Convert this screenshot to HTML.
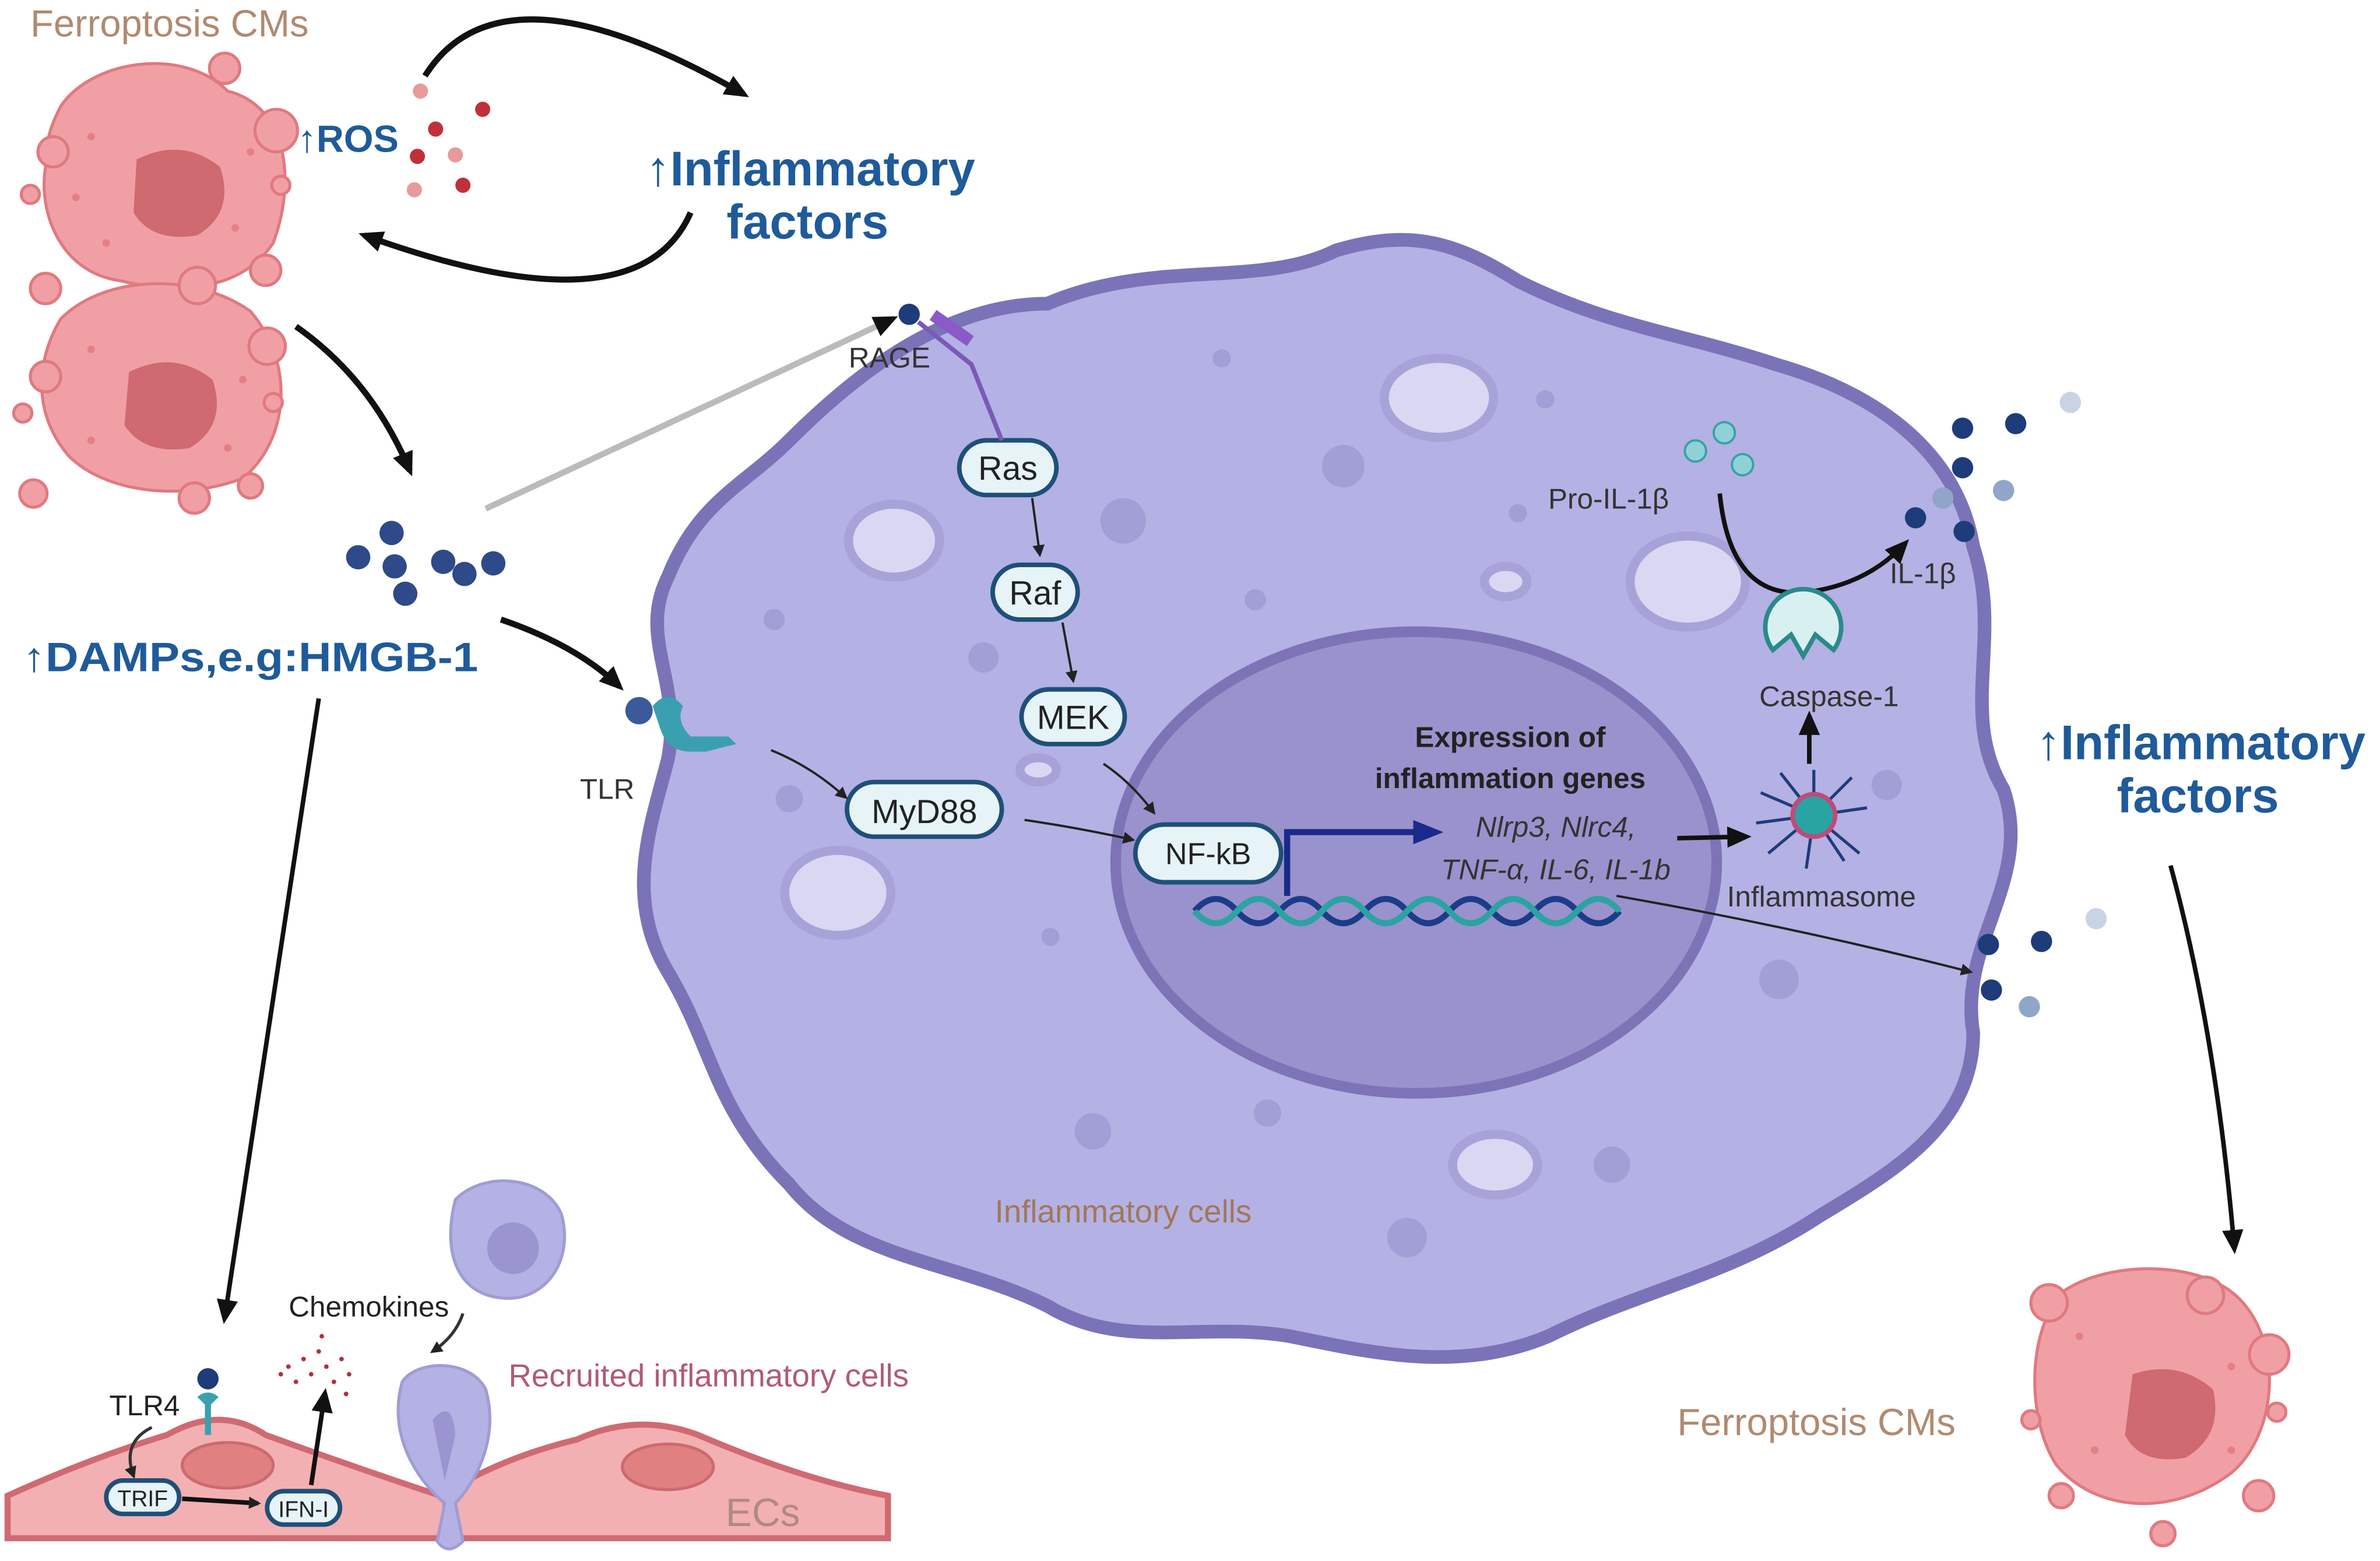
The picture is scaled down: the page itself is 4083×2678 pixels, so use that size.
<!DOCTYPE html>
<html><head><meta charset="utf-8"><style>
html,body{margin:0;padding:0;background:#fff}
svg{display:block}
text{font-family:"Liberation Sans",sans-serif}
</style></head><body>
<svg width="4083" height="2678" viewBox="0 0 1568 1028" preserveAspectRatio="none" xmlns="http://www.w3.org/2000/svg">
<defs>
<marker id="ah" markerWidth="8" markerHeight="8" refX="6" refY="4" orient="auto" markerUnits="userSpaceOnUse"><path d="M0,0 L8,4 L0,8 Z" fill="#222"/></marker>
<marker id="ahb" markerWidth="16" markerHeight="14" refX="12" refY="7" orient="auto" markerUnits="userSpaceOnUse"><path d="M0,0 L16,7 L0,14 Z" fill="#111"/></marker>
<marker id="ahn" markerWidth="20" markerHeight="16" refX="14" refY="8" orient="auto" markerUnits="userSpaceOnUse"><path d="M0,0 L20,8 L0,16 Z" fill="#1a2a8a"/></marker>
</defs>

<!-- big inflammatory cell -->
<path d="M520,290 C560,250 620,200 690,200 C760,170 830,190 880,165 C930,150 960,160 1000,185 C1060,215 1110,220 1170,240 C1240,260 1290,300 1300,360 C1320,420 1290,470 1320,520 C1340,580 1290,620 1300,680 C1300,740 1250,770 1200,800 C1140,840 1080,850 1020,880 C960,905 900,890 850,880 C790,870 740,890 690,860 C630,830 560,830 520,780 C470,730 470,690 440,640 C410,590 430,540 440,500 C450,450 420,420 440,380 C460,330 490,320 520,290 Z" fill="#b4b1e4" stroke="#7b73b8" stroke-width="9"/>
<g fill="#a29ed6">
<circle cx="885" cy="307" r="14"/><circle cx="740" cy="343" r="15"/><circle cx="648" cy="433" r="10"/><circle cx="827" cy="395" r="7"/><circle cx="805" cy="236" r="6"/><circle cx="1018" cy="263" r="6"/><circle cx="510" cy="408" r="7"/><circle cx="520" cy="526" r="9"/><circle cx="720" cy="745" r="12"/><circle cx="835" cy="733" r="9"/><circle cx="927" cy="815" r="13"/><circle cx="1062" cy="767" r="12"/><circle cx="1172" cy="645" r="13"/><circle cx="1243" cy="517" r="10"/><circle cx="1000" cy="338" r="6"/><circle cx="692" cy="617" r="6"/></g>
<g fill="#d9d8f3" stroke="#a7a3d8" stroke-width="6">
<ellipse cx="948" cy="262" rx="36" ry="26"/><ellipse cx="589" cy="356" rx="30" ry="24"/><ellipse cx="1112" cy="383" rx="38" ry="30"/><ellipse cx="552" cy="588" rx="35" ry="28"/><ellipse cx="985" cy="767" rx="28" ry="20"/><ellipse cx="992" cy="383" rx="14" ry="10"/><ellipse cx="684" cy="507" rx="12" ry="8"/></g>
<ellipse cx="933" cy="568" rx="198" ry="152" fill="#9a92cc" stroke="#7d74b7" stroke-width="7"/>

<path d="M787,600 q14,-16 28,0 t28,0 t28,0 t28,0 t28,0 t28,0 t28,0 t28,0 t28,0 t28,0" fill="none" stroke="#1c3c8a" stroke-width="4"/>
<path d="M787,600 q14,16 28,0 t28,0 t28,0 t28,0 t28,0 t28,0 t28,0 t28,0 t28,0 t28,0" fill="none" stroke="#2aa3a3" stroke-width="4"/>
<path d="M848,590 L848,548 L945,548" fill="none" stroke="#1a2a8a" stroke-width="4" marker-end="url(#ahn)"/>

<g font-size="22" text-anchor="middle" fill="#222">
<rect x="632" y="290" width="64" height="36" rx="18" fill="#e6f3f7" stroke="#1f4f78" stroke-width="3"/><text x="664" y="316">Ras</text>
<rect x="654" y="372" width="56" height="36" rx="18" fill="#e6f3f7" stroke="#1f4f78" stroke-width="3"/><text x="682" y="398">Raf</text>
<rect x="673" y="454" width="68" height="36" rx="18" fill="#e6f3f7" stroke="#1f4f78" stroke-width="3"/><text x="707" y="480">MEK</text>
<rect x="558" y="515" width="102" height="36" rx="18" fill="#e6f3f7" stroke="#1f4f78" stroke-width="3"/><text x="609" y="542">MyD88</text>
<rect x="748" y="543" width="96" height="38" rx="19" fill="#e6f3f7" stroke="#1f4f78" stroke-width="3"/><text x="796" y="569" font-size="20">NF-kB</text>
</g>
<g stroke="#222" stroke-width="1.5" fill="none" marker-end="url(#ah)">
<path d="M680,328 L685,365"/><path d="M700,410 L707,448"/><path d="M727,503 Q745,515 760,535"/><path d="M508,494 Q535,505 557,525"/><path d="M675,540 Q710,545 746,553"/>
<path d="M1065,590 Q1180,610 1298,640"/>
</g>
<path d="M1105,552 L1150,551" stroke="#111" stroke-width="3" marker-end="url(#ahb)"/>
<path d="M1192,503 L1192,472" stroke="#111" stroke-width="3" marker-end="url(#ahb)"/>
<path d="M1133,325 Q1140,395 1190,390 Q1230,385 1255,358" fill="none" stroke="#111" stroke-width="3" marker-end="url(#ahb)"/>

<text x="995" y="492" font-size="19" font-weight="bold" text-anchor="middle" fill="#222">Expression of</text>
<text x="995" y="519" font-size="19" font-weight="bold" text-anchor="middle" fill="#222">inflammation genes</text>
<text x="1025" y="551" font-size="19" font-style="italic" text-anchor="middle" fill="#333">Nlrp3, Nlrc4,</text>
<text x="1025" y="579" font-size="19" font-style="italic" text-anchor="middle" fill="#333">TNF-α, IL-6, IL-1b</text>

<g stroke="#1f3c78" stroke-width="2"><path d="M1195,537 l-35,-15 M1195,537 l-38,5 M1195,537 l-30,25 M1195,537 l0,-30 M1195,537 l25,-25 M1195,537 l35,-5 M1195,537 l30,25 M1195,537 l-5,35 M1195,537 l20,30 M1195,537 l-22,-28"/></g>
<circle cx="1195" cy="537" r="14" fill="#2aa3a3" stroke="#c04a7a" stroke-width="3"/>
<text x="1200" y="597" font-size="19" text-anchor="middle" fill="#333">Inflammasome</text>
<path d="M1168,428 A25,25 0 1 1 1208,428 L1196,418 L1188,432 L1180,418 Z" fill="#d8f0f0" stroke="#2a8a8a" stroke-width="3"/>
<text x="1205" y="465" font-size="19" text-anchor="middle" fill="#333">Caspase-1</text>
<text x="1020" y="335" font-size="19" fill="#333">Pro-IL-1β</text>
<text x="1245" y="384" font-size="19" fill="#333">IL-1β</text>
<g fill="#8fd2d6" stroke="#3aa0a8" stroke-width="1.5"><circle cx="1117" cy="297" r="7"/><circle cx="1136" cy="285" r="7"/><circle cx="1148" cy="306" r="7"/></g>
<g fill="#1e3c7a"><circle cx="1293" cy="282" r="7"/><circle cx="1328" cy="279" r="7"/><circle cx="1293" cy="308" r="7"/><circle cx="1262" cy="341" r="7"/><circle cx="1294" cy="350" r="7"/><circle cx="1310" cy="622" r="7"/><circle cx="1345" cy="620" r="7"/><circle cx="1312" cy="652" r="7"/></g>
<g fill="#8fa6c8"><circle cx="1280" cy="328" r="7"/><circle cx="1320" cy="323" r="7"/><circle cx="1364" cy="265" r="7" fill="#c8d4e6"/><circle cx="1381" cy="605" r="7" fill="#c8d4e6"/><circle cx="1337" cy="663" r="7"/></g>

<path d="M605,212 L640,240 L660,290" fill="none" stroke="#7a5ab8" stroke-width="3"/>
<rect x="612" y="212" width="30" height="8" fill="#8a5ac8" transform="rotate(35 627 216)"/>
<circle cx="599" cy="207" r="7" fill="#1e3c7a"/>
<text x="586" y="242" font-size="19" text-anchor="middle" fill="#333">RAGE</text>
<circle cx="421" cy="468" r="9" fill="#3a5a9a"/>
<path d="M430,465 q10,-12 20,0 q-5,10 5,20 l25,0 l5,5 l-20,5 l-10,0 q-15,0 -20,-15 Z" fill="#3aa0b0"/>
<text x="400" y="526" font-size="19" text-anchor="middle" fill="#333">TLR</text>
<text x="740" y="805" font-size="21" text-anchor="middle" fill="#a0785a">Inflammatory cells</text>

<!-- ferroptosis cells -->
<g fill="#f0a0a4" stroke="#e07a80" stroke-width="2">
<path d="M40,70 C60,40 120,30 150,60 C190,70 195,120 180,160 C160,190 120,195 80,185 C40,180 25,140 30,110 C30,90 35,80 40,70 Z"/>
<path d="M40,210 C70,180 130,180 165,205 C195,240 190,290 160,315 C120,330 70,325 45,300 C20,270 25,235 40,210 Z"/>
<circle cx="182" cy="86" r="14"/><circle cx="35" cy="100" r="10"/><circle cx="20" cy="128" r="6"/><circle cx="185" cy="122" r="6"/><circle cx="175" cy="178" r="10"/><circle cx="130" cy="188" r="12"/><circle cx="30" cy="190" r="10"/><circle cx="148" cy="45" r="10"/><circle cx="176" cy="228" r="12"/><circle cx="30" cy="248" r="10"/><circle cx="15" cy="272" r="6"/><circle cx="180" cy="265" r="6"/><circle cx="22" cy="325" r="9"/><circle cx="128" cy="328" r="10"/><circle cx="165" cy="320" r="8"/>
<path d="M1360,850 C1390,830 1450,830 1475,855 C1505,885 1500,945 1470,970 C1430,1000 1380,995 1355,965 C1335,935 1335,875 1360,850 Z"/>
<circle cx="1350" cy="858" r="12"/><circle cx="1453" cy="853" r="12"/><circle cx="1495" cy="892" r="13"/><circle cx="1500" cy="930" r="6"/><circle cx="1338" cy="935" r="6"/><circle cx="1488" cy="985" r="10"/><circle cx="1358" cy="985" r="8"/><circle cx="1425" cy="1010" r="8"/></g>
<g fill="#e57f86"><circle cx="60" cy="90" r="2.5"/><circle cx="165" cy="100" r="2.5"/><circle cx="70" cy="160" r="2.5"/><circle cx="155" cy="150" r="2.5"/><circle cx="50" cy="130" r="2.5"/><circle cx="60" cy="230" r="2.5"/><circle cx="160" cy="250" r="2.5"/><circle cx="60" cy="290" r="2.5"/><circle cx="150" cy="295" r="2.5"/><circle cx="1370" cy="880" r="2.5"/><circle cx="1470" cy="900" r="2.5"/><circle cx="1380" cy="955" r="2.5"/><circle cx="1470" cy="955" r="2.5"/></g>
<g fill="#cf6a70"><path d="M90,105 Q120,90 145,110 Q155,140 130,155 Q100,160 88,140 Z"/><path d="M85,245 Q115,230 140,250 Q150,280 125,295 Q95,300 82,280 Z"/><path d="M1405,905 Q1435,895 1458,915 Q1465,945 1440,960 Q1410,965 1400,945 Z"/></g>

<text x="20" y="24" font-size="25" fill="#b08a70">Ferroptosis CMs</text>
<text x="1105" y="945" font-size="25" fill="#b08a70">Ferroptosis CMs</text>

<text x="196" y="100" font-size="25" font-weight="bold" fill="#1f5a9a">↑ROS</text>
<g fill="#c0303a"><circle cx="287" cy="85" r="5"/><circle cx="318" cy="72" r="5"/><circle cx="275" cy="103" r="5"/><circle cx="305" cy="122" r="5"/></g>
<g fill="#e89a9a"><circle cx="277" cy="60" r="5"/><circle cx="300" cy="102" r="5"/><circle cx="273" cy="125" r="5"/></g>
<text x="534" y="122" font-size="32" font-weight="bold" text-anchor="middle" fill="#1f5a9a">↑Inflammatory</text>
<text x="532" y="157" font-size="32" font-weight="bold" text-anchor="middle" fill="#1f5a9a">factors</text>
<text x="1450" y="500" font-size="32" font-weight="bold" text-anchor="middle" fill="#1f5a9a">↑Inflammatory</text>
<text x="1448" y="535" font-size="32" font-weight="bold" text-anchor="middle" fill="#1f5a9a">factors</text>
<text x="15" y="442" font-size="27" font-weight="bold" fill="#1f5a9a" textLength="300" lengthAdjust="spacingAndGlyphs">↑DAMPs,e.g:HMGB-1</text>
<g fill="#2e4a88"><circle cx="236" cy="367" r="8"/><circle cx="258" cy="351" r="8"/><circle cx="260" cy="373" r="8"/><circle cx="267" cy="391" r="8"/><circle cx="292" cy="370" r="8"/><circle cx="306" cy="378" r="8"/><circle cx="325" cy="371" r="8"/></g>

<g fill="none" stroke="#111" stroke-width="4">
<path d="M280,50 Q330,-30 490,62" marker-end="url(#ahb)"/>
<path d="M455,140 Q420,220 240,155" marker-end="url(#ahb)"/>
<path d="M195,215 Q245,250 270,310" marker-end="url(#ahb)"/>
<path d="M330,408 Q380,425 408,452" marker-end="url(#ahb)"/>
<path d="M320,335 L588,210" stroke="#bbb" marker-end="url(#ahb)"/>
<path d="M210,460 L148,868" stroke-width="3" marker-end="url(#ahb)"/>
<path d="M1430,570 Q1460,680 1472,822" stroke-width="3" marker-end="url(#ahb)"/>
</g>

<!-- ECs -->
<path d="M5,1013 L5,985 Q60,960 110,945 Q145,925 175,945 Q230,965 290,985 Q330,960 380,948 Q420,930 460,945 Q530,975 585,985 L585,1013 Z" fill="#f2b0b2" stroke="#d06a72" stroke-width="4"/>
<line x1="293" y1="985" x2="293" y2="1013" stroke="#d06a72" stroke-width="3"/>
<ellipse cx="150" cy="965" rx="30" ry="15" fill="#e08080" stroke="#cc6a70" stroke-width="2"/>
<ellipse cx="440" cy="966" rx="30" ry="15" fill="#e08080" stroke="#cc6a70" stroke-width="2"/>
<text x="478" y="1005" font-size="26" fill="#b08a80">ECs</text>
<rect x="70" y="975" width="48" height="22" rx="11" fill="#e6f3f7" stroke="#1f4f78" stroke-width="3"/><text x="94" y="992" font-size="15" text-anchor="middle" fill="#222">TRIF</text>
<rect x="176" y="982" width="48" height="22" rx="11" fill="#e6f3f7" stroke="#1f4f78" stroke-width="3"/><text x="200" y="999" font-size="15" text-anchor="middle" fill="#222">IFN-I</text>
<path d="M120,987 L170,990" stroke="#111" stroke-width="3" marker-end="url(#ah)"/>
<path d="M205,978 L214,918" stroke="#111" stroke-width="3" marker-end="url(#ahb)"/>
<path d="M100,940 Q80,950 88,972" fill="none" stroke="#333" stroke-width="2" marker-end="url(#ah)"/>
<circle cx="137" cy="908" r="7" fill="#1e3c7a"/>
<path d="M130,920 q7,-6 14,0 l-5,5 l0,20 l-4,0 l0,-20 Z" fill="#3aa0b0"/>
<text x="72" y="932" font-size="19" fill="#222">TLR4</text>
<text x="243" y="867" font-size="19" text-anchor="middle" fill="#222">Chemokines</text>
<g fill="#b03040"><circle cx="190" cy="900" r="1.5"/><circle cx="200" cy="895" r="1.5"/><circle cx="210" cy="890" r="1.5"/><circle cx="205" cy="905" r="1.5"/><circle cx="215" cy="900" r="1.5"/><circle cx="220" cy="910" r="1.5"/><circle cx="225" cy="895" r="1.5"/><circle cx="195" cy="910" r="1.5"/><circle cx="185" cy="905" r="1.5"/><circle cx="230" cy="905" r="1.5"/><circle cx="212" cy="880" r="1.5"/><circle cx="228" cy="918" r="1.5"/></g>
<path d="M305,865 Q300,880 285,890" fill="none" stroke="#333" stroke-width="2" marker-end="url(#ah)"/>
<path d="M300,790 C320,770 360,775 370,800 C378,830 360,855 335,855 C305,855 290,830 300,790 Z" fill="#b4b1e4" stroke="#a09cd4" stroke-width="2"/>
<circle cx="338" cy="822" r="17" fill="#9a94d0"/>
<path d="M265,910 C275,895 310,895 320,915 C330,950 310,980 300,990 L305,1015 Q295,1025 288,1015 L293,990 C275,975 255,945 265,910 Z" fill="#b4b1e4" stroke="#a09cd4" stroke-width="2"/>
<path d="M285,935 Q298,920 300,945 L293,975 Z" fill="#9a94d0"/>
<text x="335" y="913" font-size="21" fill="#b05a78">Recruited inflammatory cells</text>
</svg>
</body></html>
